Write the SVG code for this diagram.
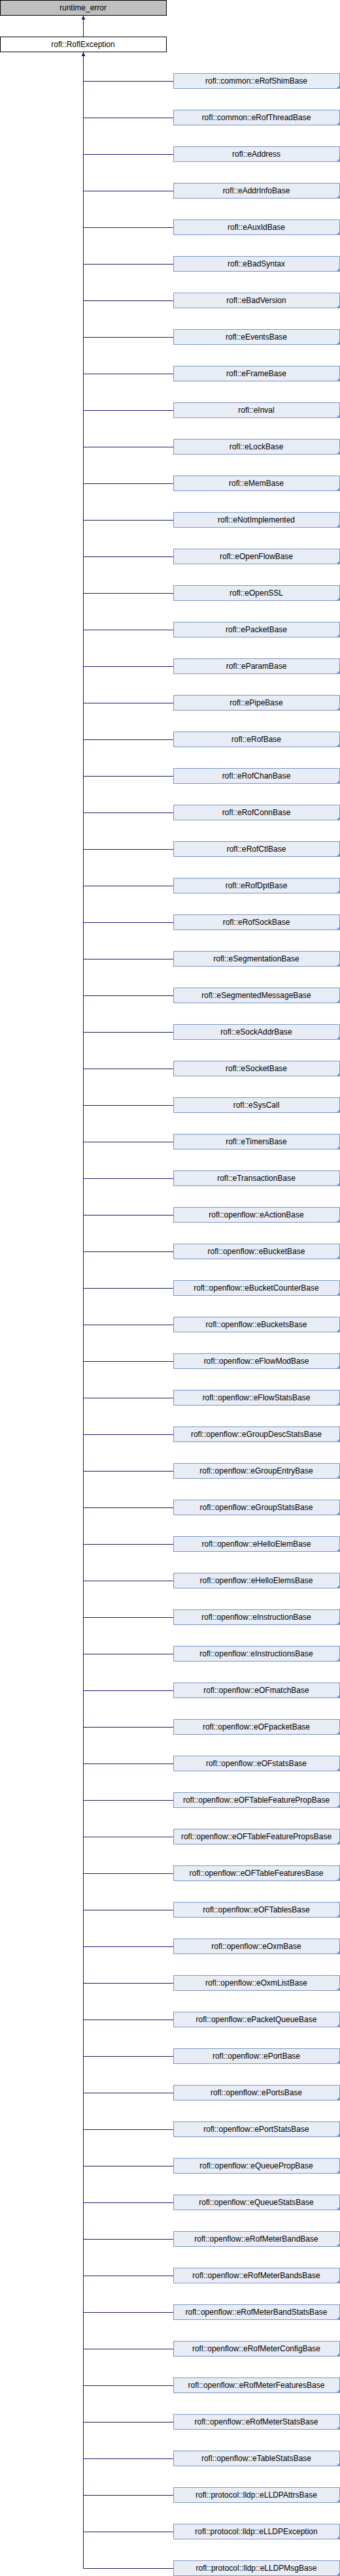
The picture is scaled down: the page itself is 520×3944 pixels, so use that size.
<svg xmlns="http://www.w3.org/2000/svg" width="520" height="3944" viewBox="0 0 520 3944">
<style>
text{font-family:"Liberation Sans",Arial,sans-serif;font-size:12px;fill:#000;text-anchor:middle}
.base{fill:#bfbfbf;stroke:#000;stroke-width:1}
.main{fill:#fff;stroke:#000;stroke-width:1}
.c{fill:#e8ecf5;stroke:#7c95c8;stroke-width:1}
.t{fill:#7c95c8}
.e{stroke:#191970;stroke-width:1;fill:none}
</style>
<defs>
<marker id="a" viewBox="0 0 10 10" refX="10" refY="5" markerWidth="7" markerHeight="6" orient="auto" markerUnits="userSpaceOnUse"><path d="M0,0 L10,5 L0,10 z" fill="#191970"/></marker>
</defs>
<g id="edges">
<path class="e" d="M127.5,56 V24" marker-end="url(#a)"/>
<path class="e" d="M127.5,3932.5 V80" marker-end="url(#a)"/>
<path class="e" d="M127.5,124.5H265M127.5,180.5H265M127.5,236.5H265M127.5,292.5H265M127.5,348.5H265M127.5,404.5H265M127.5,460.5H265M127.5,516.5H265M127.5,572.5H265M127.5,628.5H265M127.5,684.5H265M127.5,740.5H265M127.5,796.5H265M127.5,852.5H265M127.5,908.5H265M127.5,964.5H265M127.5,1020.5H265M127.5,1076.5H265M127.5,1132.5H265M127.5,1188.5H265M127.5,1244.5H265M127.5,1300.5H265M127.5,1356.5H265M127.5,1412.5H265M127.5,1468.5H265M127.5,1524.5H265M127.5,1580.5H265M127.5,1636.5H265M127.5,1692.5H265M127.5,1748.5H265M127.5,1804.5H265M127.5,1860.5H265M127.5,1916.5H265M127.5,1972.5H265M127.5,2028.5H265M127.5,2084.5H265M127.5,2140.5H265M127.5,2196.5H265M127.5,2252.5H265M127.5,2308.5H265M127.5,2364.5H265M127.5,2420.5H265M127.5,2476.5H265M127.5,2532.5H265M127.5,2588.5H265M127.5,2644.5H265M127.5,2700.5H265M127.5,2756.5H265M127.5,2812.5H265M127.5,2868.5H265M127.5,2924.5H265M127.5,2980.5H265M127.5,3036.5H265M127.5,3092.5H265M127.5,3148.5H265M127.5,3204.5H265M127.5,3260.5H265M127.5,3316.5H265M127.5,3372.5H265M127.5,3428.5H265M127.5,3484.5H265M127.5,3540.5H265M127.5,3596.5H265M127.5,3652.5H265M127.5,3708.5H265M127.5,3764.5H265M127.5,3820.5H265M127.5,3876.5H265M127.5,3932.5H265"/>
</g>
<g id="runtime_error"><rect class="base" x="0.5" y="0.5" width="254" height="23"/><text x="127" y="16">runtime_error</text></g>
<g id="RoflException"><rect class="main" x="0.5" y="56.5" width="254" height="23"/><text x="127" y="72">rofl::RoflException</text></g>
<g id="n1" transform="translate(265,112)"><rect class="c" x="0.5" y="0.5" width="254" height="23"/><path class="t" d="M255,18V24H249z"/><text x="127" y="16">rofl::common::eRofShimBase</text></g>
<g id="n2" transform="translate(265,168)"><rect class="c" x="0.5" y="0.5" width="254" height="23"/><path class="t" d="M255,18V24H249z"/><text x="127" y="16">rofl::common::eRofThreadBase</text></g>
<g id="n3" transform="translate(265,224)"><rect class="c" x="0.5" y="0.5" width="254" height="23"/><path class="t" d="M255,18V24H249z"/><text x="127" y="16">rofl::eAddress</text></g>
<g id="n4" transform="translate(265,280)"><rect class="c" x="0.5" y="0.5" width="254" height="23"/><path class="t" d="M255,18V24H249z"/><text x="127" y="16">rofl::eAddrInfoBase</text></g>
<g id="n5" transform="translate(265,336)"><rect class="c" x="0.5" y="0.5" width="254" height="23"/><path class="t" d="M255,18V24H249z"/><text x="127" y="16">rofl::eAuxIdBase</text></g>
<g id="n6" transform="translate(265,392)"><rect class="c" x="0.5" y="0.5" width="254" height="23"/><path class="t" d="M255,18V24H249z"/><text x="127" y="16">rofl::eBadSyntax</text></g>
<g id="n7" transform="translate(265,448)"><rect class="c" x="0.5" y="0.5" width="254" height="23"/><path class="t" d="M255,18V24H249z"/><text x="127" y="16">rofl::eBadVersion</text></g>
<g id="n8" transform="translate(265,504)"><rect class="c" x="0.5" y="0.5" width="254" height="23"/><path class="t" d="M255,18V24H249z"/><text x="127" y="16">rofl::eEventsBase</text></g>
<g id="n9" transform="translate(265,560)"><rect class="c" x="0.5" y="0.5" width="254" height="23"/><path class="t" d="M255,18V24H249z"/><text x="127" y="16">rofl::eFrameBase</text></g>
<g id="n10" transform="translate(265,616)"><rect class="c" x="0.5" y="0.5" width="254" height="23"/><path class="t" d="M255,18V24H249z"/><text x="127" y="16">rofl::eInval</text></g>
<g id="n11" transform="translate(265,672)"><rect class="c" x="0.5" y="0.5" width="254" height="23"/><path class="t" d="M255,18V24H249z"/><text x="127" y="16">rofl::eLockBase</text></g>
<g id="n12" transform="translate(265,728)"><rect class="c" x="0.5" y="0.5" width="254" height="23"/><path class="t" d="M255,18V24H249z"/><text x="127" y="16">rofl::eMemBase</text></g>
<g id="n13" transform="translate(265,784)"><rect class="c" x="0.5" y="0.5" width="254" height="23"/><path class="t" d="M255,18V24H249z"/><text x="127" y="16">rofl::eNotImplemented</text></g>
<g id="n14" transform="translate(265,840)"><rect class="c" x="0.5" y="0.5" width="254" height="23"/><path class="t" d="M255,18V24H249z"/><text x="127" y="16">rofl::eOpenFlowBase</text></g>
<g id="n15" transform="translate(265,896)"><rect class="c" x="0.5" y="0.5" width="254" height="23"/><path class="t" d="M255,18V24H249z"/><text x="127" y="16">rofl::eOpenSSL</text></g>
<g id="n16" transform="translate(265,952)"><rect class="c" x="0.5" y="0.5" width="254" height="23"/><path class="t" d="M255,18V24H249z"/><text x="127" y="16">rofl::ePacketBase</text></g>
<g id="n17" transform="translate(265,1008)"><rect class="c" x="0.5" y="0.5" width="254" height="23"/><path class="t" d="M255,18V24H249z"/><text x="127" y="16">rofl::eParamBase</text></g>
<g id="n18" transform="translate(265,1064)"><rect class="c" x="0.5" y="0.5" width="254" height="23"/><path class="t" d="M255,18V24H249z"/><text x="127" y="16">rofl::ePipeBase</text></g>
<g id="n19" transform="translate(265,1120)"><rect class="c" x="0.5" y="0.5" width="254" height="23"/><path class="t" d="M255,18V24H249z"/><text x="127" y="16">rofl::eRofBase</text></g>
<g id="n20" transform="translate(265,1176)"><rect class="c" x="0.5" y="0.5" width="254" height="23"/><path class="t" d="M255,18V24H249z"/><text x="127" y="16">rofl::eRofChanBase</text></g>
<g id="n21" transform="translate(265,1232)"><rect class="c" x="0.5" y="0.5" width="254" height="23"/><path class="t" d="M255,18V24H249z"/><text x="127" y="16">rofl::eRofConnBase</text></g>
<g id="n22" transform="translate(265,1288)"><rect class="c" x="0.5" y="0.5" width="254" height="23"/><path class="t" d="M255,18V24H249z"/><text x="127" y="16">rofl::eRofCtlBase</text></g>
<g id="n23" transform="translate(265,1344)"><rect class="c" x="0.5" y="0.5" width="254" height="23"/><path class="t" d="M255,18V24H249z"/><text x="127" y="16">rofl::eRofDptBase</text></g>
<g id="n24" transform="translate(265,1400)"><rect class="c" x="0.5" y="0.5" width="254" height="23"/><path class="t" d="M255,18V24H249z"/><text x="127" y="16">rofl::eRofSockBase</text></g>
<g id="n25" transform="translate(265,1456)"><rect class="c" x="0.5" y="0.5" width="254" height="23"/><path class="t" d="M255,18V24H249z"/><text x="127" y="16">rofl::eSegmentationBase</text></g>
<g id="n26" transform="translate(265,1512)"><rect class="c" x="0.5" y="0.5" width="254" height="23"/><path class="t" d="M255,18V24H249z"/><text x="127" y="16">rofl::eSegmentedMessageBase</text></g>
<g id="n27" transform="translate(265,1568)"><rect class="c" x="0.5" y="0.5" width="254" height="23"/><path class="t" d="M255,18V24H249z"/><text x="127" y="16">rofl::eSockAddrBase</text></g>
<g id="n28" transform="translate(265,1624)"><rect class="c" x="0.5" y="0.5" width="254" height="23"/><path class="t" d="M255,18V24H249z"/><text x="127" y="16">rofl::eSocketBase</text></g>
<g id="n29" transform="translate(265,1680)"><rect class="c" x="0.5" y="0.5" width="254" height="23"/><path class="t" d="M255,18V24H249z"/><text x="127" y="16">rofl::eSysCall</text></g>
<g id="n30" transform="translate(265,1736)"><rect class="c" x="0.5" y="0.5" width="254" height="23"/><path class="t" d="M255,18V24H249z"/><text x="127" y="16">rofl::eTimersBase</text></g>
<g id="n31" transform="translate(265,1792)"><rect class="c" x="0.5" y="0.5" width="254" height="23"/><path class="t" d="M255,18V24H249z"/><text x="127" y="16">rofl::eTransactionBase</text></g>
<g id="n32" transform="translate(265,1848)"><rect class="c" x="0.5" y="0.5" width="254" height="23"/><path class="t" d="M255,18V24H249z"/><text x="127" y="16">rofl::openflow::eActionBase</text></g>
<g id="n33" transform="translate(265,1904)"><rect class="c" x="0.5" y="0.5" width="254" height="23"/><path class="t" d="M255,18V24H249z"/><text x="127" y="16">rofl::openflow::eBucketBase</text></g>
<g id="n34" transform="translate(265,1960)"><rect class="c" x="0.5" y="0.5" width="254" height="23"/><path class="t" d="M255,18V24H249z"/><text x="127" y="16">rofl::openflow::eBucketCounterBase</text></g>
<g id="n35" transform="translate(265,2016)"><rect class="c" x="0.5" y="0.5" width="254" height="23"/><path class="t" d="M255,18V24H249z"/><text x="127" y="16">rofl::openflow::eBucketsBase</text></g>
<g id="n36" transform="translate(265,2072)"><rect class="c" x="0.5" y="0.5" width="254" height="23"/><path class="t" d="M255,18V24H249z"/><text x="127" y="16">rofl::openflow::eFlowModBase</text></g>
<g id="n37" transform="translate(265,2128)"><rect class="c" x="0.5" y="0.5" width="254" height="23"/><path class="t" d="M255,18V24H249z"/><text x="127" y="16">rofl::openflow::eFlowStatsBase</text></g>
<g id="n38" transform="translate(265,2184)"><rect class="c" x="0.5" y="0.5" width="254" height="23"/><path class="t" d="M255,18V24H249z"/><text x="127" y="16">rofl::openflow::eGroupDescStatsBase</text></g>
<g id="n39" transform="translate(265,2240)"><rect class="c" x="0.5" y="0.5" width="254" height="23"/><path class="t" d="M255,18V24H249z"/><text x="127" y="16">rofl::openflow::eGroupEntryBase</text></g>
<g id="n40" transform="translate(265,2296)"><rect class="c" x="0.5" y="0.5" width="254" height="23"/><path class="t" d="M255,18V24H249z"/><text x="127" y="16">rofl::openflow::eGroupStatsBase</text></g>
<g id="n41" transform="translate(265,2352)"><rect class="c" x="0.5" y="0.5" width="254" height="23"/><path class="t" d="M255,18V24H249z"/><text x="127" y="16">rofl::openflow::eHelloElemBase</text></g>
<g id="n42" transform="translate(265,2408)"><rect class="c" x="0.5" y="0.5" width="254" height="23"/><path class="t" d="M255,18V24H249z"/><text x="127" y="16">rofl::openflow::eHelloElemsBase</text></g>
<g id="n43" transform="translate(265,2464)"><rect class="c" x="0.5" y="0.5" width="254" height="23"/><path class="t" d="M255,18V24H249z"/><text x="127" y="16">rofl::openflow::eInstructionBase</text></g>
<g id="n44" transform="translate(265,2520)"><rect class="c" x="0.5" y="0.5" width="254" height="23"/><path class="t" d="M255,18V24H249z"/><text x="127" y="16">rofl::openflow::eInstructionsBase</text></g>
<g id="n45" transform="translate(265,2576)"><rect class="c" x="0.5" y="0.5" width="254" height="23"/><path class="t" d="M255,18V24H249z"/><text x="127" y="16">rofl::openflow::eOFmatchBase</text></g>
<g id="n46" transform="translate(265,2632)"><rect class="c" x="0.5" y="0.5" width="254" height="23"/><path class="t" d="M255,18V24H249z"/><text x="127" y="16">rofl::openflow::eOFpacketBase</text></g>
<g id="n47" transform="translate(265,2688)"><rect class="c" x="0.5" y="0.5" width="254" height="23"/><path class="t" d="M255,18V24H249z"/><text x="127" y="16">rofl::openflow::eOFstatsBase</text></g>
<g id="n48" transform="translate(265,2744)"><rect class="c" x="0.5" y="0.5" width="254" height="23"/><path class="t" d="M255,18V24H249z"/><text x="127" y="16">rofl::openflow::eOFTableFeaturePropBase</text></g>
<g id="n49" transform="translate(265,2800)"><rect class="c" x="0.5" y="0.5" width="254" height="23"/><path class="t" d="M255,18V24H249z"/><text x="127" y="16">rofl::openflow::eOFTableFeaturePropsBase</text></g>
<g id="n50" transform="translate(265,2856)"><rect class="c" x="0.5" y="0.5" width="254" height="23"/><path class="t" d="M255,18V24H249z"/><text x="127" y="16">rofl::openflow::eOFTableFeaturesBase</text></g>
<g id="n51" transform="translate(265,2912)"><rect class="c" x="0.5" y="0.5" width="254" height="23"/><path class="t" d="M255,18V24H249z"/><text x="127" y="16">rofl::openflow::eOFTablesBase</text></g>
<g id="n52" transform="translate(265,2968)"><rect class="c" x="0.5" y="0.5" width="254" height="23"/><path class="t" d="M255,18V24H249z"/><text x="127" y="16">rofl::openflow::eOxmBase</text></g>
<g id="n53" transform="translate(265,3024)"><rect class="c" x="0.5" y="0.5" width="254" height="23"/><path class="t" d="M255,18V24H249z"/><text x="127" y="16">rofl::openflow::eOxmListBase</text></g>
<g id="n54" transform="translate(265,3080)"><rect class="c" x="0.5" y="0.5" width="254" height="23"/><path class="t" d="M255,18V24H249z"/><text x="127" y="16">rofl::openflow::ePacketQueueBase</text></g>
<g id="n55" transform="translate(265,3136)"><rect class="c" x="0.5" y="0.5" width="254" height="23"/><path class="t" d="M255,18V24H249z"/><text x="127" y="16">rofl::openflow::ePortBase</text></g>
<g id="n56" transform="translate(265,3192)"><rect class="c" x="0.5" y="0.5" width="254" height="23"/><path class="t" d="M255,18V24H249z"/><text x="127" y="16">rofl::openflow::ePortsBase</text></g>
<g id="n57" transform="translate(265,3248)"><rect class="c" x="0.5" y="0.5" width="254" height="23"/><path class="t" d="M255,18V24H249z"/><text x="127" y="16">rofl::openflow::ePortStatsBase</text></g>
<g id="n58" transform="translate(265,3304)"><rect class="c" x="0.5" y="0.5" width="254" height="23"/><path class="t" d="M255,18V24H249z"/><text x="127" y="16">rofl::openflow::eQueuePropBase</text></g>
<g id="n59" transform="translate(265,3360)"><rect class="c" x="0.5" y="0.5" width="254" height="23"/><path class="t" d="M255,18V24H249z"/><text x="127" y="16">rofl::openflow::eQueueStatsBase</text></g>
<g id="n60" transform="translate(265,3416)"><rect class="c" x="0.5" y="0.5" width="254" height="23"/><path class="t" d="M255,18V24H249z"/><text x="127" y="16">rofl::openflow::eRofMeterBandBase</text></g>
<g id="n61" transform="translate(265,3472)"><rect class="c" x="0.5" y="0.5" width="254" height="23"/><path class="t" d="M255,18V24H249z"/><text x="127" y="16">rofl::openflow::eRofMeterBandsBase</text></g>
<g id="n62" transform="translate(265,3528)"><rect class="c" x="0.5" y="0.5" width="254" height="23"/><path class="t" d="M255,18V24H249z"/><text x="127" y="16">rofl::openflow::eRofMeterBandStatsBase</text></g>
<g id="n63" transform="translate(265,3584)"><rect class="c" x="0.5" y="0.5" width="254" height="23"/><path class="t" d="M255,18V24H249z"/><text x="127" y="16">rofl::openflow::eRofMeterConfigBase</text></g>
<g id="n64" transform="translate(265,3640)"><rect class="c" x="0.5" y="0.5" width="254" height="23"/><path class="t" d="M255,18V24H249z"/><text x="127" y="16">rofl::openflow::eRofMeterFeaturesBase</text></g>
<g id="n65" transform="translate(265,3696)"><rect class="c" x="0.5" y="0.5" width="254" height="23"/><path class="t" d="M255,18V24H249z"/><text x="127" y="16">rofl::openflow::eRofMeterStatsBase</text></g>
<g id="n66" transform="translate(265,3752)"><rect class="c" x="0.5" y="0.5" width="254" height="23"/><path class="t" d="M255,18V24H249z"/><text x="127" y="16">rofl::openflow::eTableStatsBase</text></g>
<g id="n67" transform="translate(265,3808)"><rect class="c" x="0.5" y="0.5" width="254" height="23"/><path class="t" d="M255,18V24H249z"/><text x="127" y="16">rofl::protocol::lldp::eLLDPAttrsBase</text></g>
<g id="n68" transform="translate(265,3864)"><rect class="c" x="0.5" y="0.5" width="254" height="23"/><path class="t" d="M255,18V24H249z"/><text x="127" y="16">rofl::protocol::lldp::eLLDPException</text></g>
<g id="n69" transform="translate(265,3920)"><rect class="c" x="0.5" y="0.5" width="254" height="23"/><path class="t" d="M255,18V24H249z"/><text x="127" y="16">rofl::protocol::lldp::eLLDPMsgBase</text></g>
</svg>
